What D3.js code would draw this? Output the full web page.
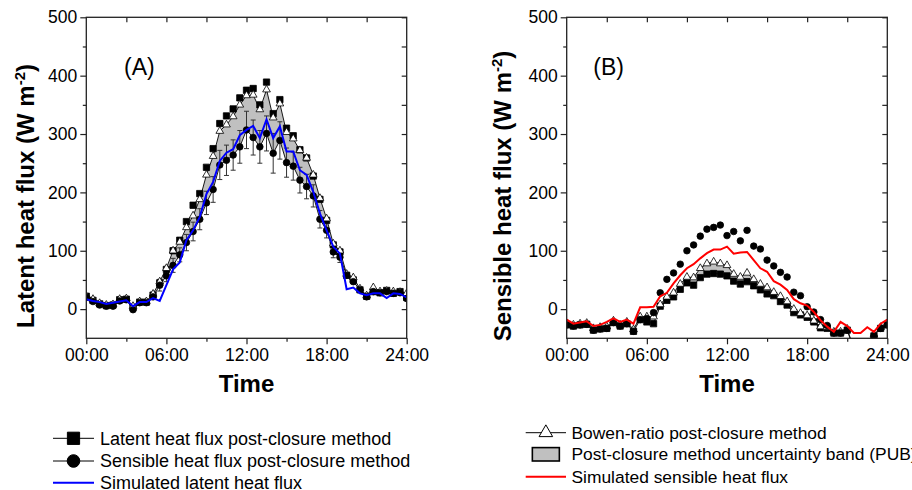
<!DOCTYPE html>
<html>
<head>
<meta charset="utf-8">
<script src="https://cdn.jsdelivr.net/npm/d3@7"></script>
<style>
  body { margin: 0; background: #fff; }
  svg { font-family: "Liberation Sans", Arial, sans-serif; }
</style>
</head>
<body>
<div id="chart"></div>
<script>
// half-hourly time stamps (hours)
var hours = [0,0.5,1,1.5,2,2.5,3,3.5,4,4.5,5,5.5,6,6.5,7,7.5,8,8.5,9,9.5,10,10.5,11,11.5,
             12,12.5,13,13.5,14,14.5,15,15.5,16,16.5,17,17.5,18,18.5,19,19.5,20,20.5,21,21.5,22,22.5,23,23.5,24];
var timeTicks = [0, 6, 12, 18, 24];
var timeLabels = ["00:00", "06:00", "12:00", "18:00", "24:00"];
var fluxTicks = [0, 100, 200, 300, 400, 500];

// (A) latent heat flux
var aLatentPC = [22,15,9,6,7,16,17,3,12,12,24,45,68,100,118,150,178,198,243,275,318,331,343,362,
                 375,378,350,389,335,359,310,297,273,259,228,188,152,110,98,58,50,33,22,30,28,32,27,30,20];
var aBowen    = [22,17,10,7,8,17,18,5,13,13,26,47,70,100,115,140,160,188,230,262,305,316,330,350,
                 366,367,342,376,328,352,303,292,272,259,230,190,155,112,100,60,54,35,23,37,30,31,30,29,27];
var aSensPC   = [20,13,7,5,5,14,16,-1,11,11,21,41,57,75,93,114,133,154,182,205,247,255,264,278,
                 307,294,278,301,267,289,251,245,221,210,194,154,135,98,89,58,47,33,21,30,28,30,27,28,18];
var aSensErr  = [0,0,0,0,0,0,0,0,0,0,0,10,10,12,12,14,16,18,20,22,25,26,26,28,
                 32,30,28,30,34,32,25,24,22,21,19,15,13,10,9,0,0,0,0,0,0,0,0,0,0];
var aSimLE    = [17,14,12,9,11,13,15,5,12,12,19,14,41,68,80,118,135,158,197,218,254,268,274,298,
                 307,314,293,325,293,313,270,270,238,230,201,164,135,107,95,34,37,27,24,27,27,19,27,26,20];

// (B) sensible heat flux
var bLatentPC = [-27,-29,-27,-26,-36,-34,-33,-23,-29,-25,-38,-18,-22,-25,5,15,21,34,45,41,54,60,61,60,
                 57,48,43,47,40,33,26,23,13,7,-6,-10,-14,-22,-32,-33,-41,-41,-36,-70,-85,-70,-46,-33,-27];
var bBowen    = [-25,-27,-25,-24,-33,-31,-30,-20,-27,-22,-35,-13,-13,-13,8,21,28,43,55,54,70,78,81,78,
                 75,60,55,62,51,43,37,29,22,13,0,-7,-11,-20,-30,-31,-39,-39,-34,-68,-83,-68,-44,-31,-25];
var bSensPC   = [-27,-29,-27,-26,-36,-34,-33,-23,-29,-25,-38,-18,-16,-6,28,51,62,77,100,110,125,137,140,144,
                 126,133,117,135,108,103,84,74,63,55,29,23,4,-5,-18,-28,-41,-41,-36,-70,-85,-70,-46,-33,-27];
var bSimH     = [-18,-25,-23,-21,-29,-27,-22,-16,-22,-18,-25,3,3,4,22,28,44,58,70,77,87,96,102,102,
                 107,95,97,98,84,70,64,48,42,33,17,10,6,-5,-19,-30,-39,-22,-29,-41,-41,-31,-39,-25,-18];

var W = 912, H = 490;
var plotTop = 17.3, ph = 321;

var svg = d3.select("#chart")
  .append("svg")
    .attr("width", W)
    .attr("height", H);

function drawPanel(p) {
    var pw = p.width;
    var g = svg.append("g")
        .attr("transform", "translate(" + p.left + "," + plotTop + ")");

    var x = d3.scaleLinear().domain([0, 24]).range([0, pw]);
    var y = d3.scaleLinear().domain([-50, 500]).range([ph, 0]);

    var clipId = "clip" + p.name;
    g.append("clipPath").attr("id", clipId)
      .append("rect").attr("width", pw).attr("height", ph);

    var data = hours.map(function(h, i) {
        return { h: h, sq: p.sq[i], tri: p.tri[i], circ: p.circ[i],
                 sim: p.sim[i], err: p.err ? p.err[i] : 0 };
    });

    var plot = g.append("g").attr("clip-path", "url(#" + clipId + ")");

    // uncertainty band between Bowen-ratio and the lower post-closure series
    var lowKey = p.bandLow;
    plot.append("path")
      .datum(data)
      .attr("fill", "#c0c0c0")
      .attr("d", d3.area()
            .x(function(d) { return x(d.h); })
            .y0(function(d) { return y(d[lowKey]); })
            .y1(function(d) { return y(d.tri); }));

    var thin = function(key) {
        plot.append("path")
          .datum(data)
          .attr("fill", "none")
          .attr("stroke", "#000")
          .attr("stroke-width", 0.9)
          .attr("d", d3.line()
                .x(function(d) { return x(d.h); })
                .y(function(d) { return y(d[key]); }));
    };
    thin("tri");
    thin(lowKey);

    // error bars
    var eb = plot.selectAll(".eb")
      .data(data.filter(function(d) { return d.err > 0; }))
      .enter().append("g")
        .attr("stroke", "#333")
        .attr("stroke-width", 1);
    eb.append("line")
      .attr("x1", function(d) { return x(d.h); })
      .attr("x2", function(d) { return x(d.h); })
      .attr("y1", function(d) { return y(d.circ - d.err); })
      .attr("y2", function(d) { return y(d.circ + d.err); });
    [-1, 1].forEach(function(s) {
        eb.append("line")
          .attr("x1", function(d) { return x(d.h) - 2.5; })
          .attr("x2", function(d) { return x(d.h) + 2.5; })
          .attr("y1", function(d) { return y(d.circ + s * d.err); })
          .attr("y2", function(d) { return y(d.circ + s * d.err); });
    });

    // markers
    var sym = function(type, size, key, fill) {
        plot.selectAll(".m" + key)
          .data(data)
          .enter().append("path")
            .attr("transform", function(d) { return "translate(" + x(d.h) + "," + y(d[key]) + ")"; })
            .attr("d", d3.symbol().type(type).size(size))
            .attr("fill", fill)
            .attr("stroke", "#000")
            .attr("stroke-width", 0.8);
    };
    sym(d3.symbolSquare, 40, "sq", "#000");
    sym(d3.symbolTriangle, 26, "tri", "#fff");
    sym(d3.symbolCircle, 34, "circ", "#000");

    // simulated flux
    plot.append("path")
      .datum(data)
      .attr("fill", "none")
      .attr("stroke", p.simColor)
      .attr("stroke-width", 2)
      .attr("d", d3.line()
            .x(function(d) { return x(d.h); })
            .y(function(d) { return y(d.sim); }));

    // axes: outward ticks left/bottom, inward mirror ticks right/top
    var left = g.append("g")
      .call(d3.axisLeft(y).tickValues(fluxTicks).tickSizeInner(6).tickSizeOuter(0).tickPadding(3));
    g.append("g")
      .call(d3.axisLeft(y).tickValues([50, 150, 250, 350, 450]).tickSize(3.5).tickFormat(""));
    var bottom = g.append("g")
      .attr("transform", "translate(0," + ph + ")")
      .call(d3.axisBottom(x).tickValues(timeTicks).tickSizeInner(6).tickSizeOuter(0).tickPadding(4)
            .tickFormat(function(d, i) { return timeLabels[i]; }));
    g.append("g")
      .attr("transform", "translate(0," + ph + ")")
      .call(d3.axisBottom(x).tickValues([3, 9, 15, 21]).tickSize(3.5).tickFormat(""));
    g.append("g")
      .attr("transform", "translate(" + pw + ",0)")
      .call(d3.axisLeft(y).tickValues(fluxTicks.concat([50, 150, 250, 350, 450])).tickSize(5).tickFormat(""));
    g.append("g")
      .call(d3.axisBottom(x).tickValues([3, 6, 9, 12, 15, 18, 21]).tickSize(5).tickFormat(""));

    g.selectAll(".domain").remove();
    g.selectAll(".tick line").attr("stroke", "#222").attr("stroke-width", 1.2);
    left.selectAll("text").style("font-size", "17.5px").attr("fill", "#000");
    bottom.selectAll("text").style("font-size", "17.5px").attr("fill", "#000");

    g.append("rect")
      .attr("width", pw).attr("height", ph)
      .attr("fill", "none")
      .attr("stroke", "#222")
      .attr("stroke-width", 1.3);

    // panel label
    g.append("text")
      .attr("x", p.labelX).attr("y", 75 - plotTop)
      .style("font-size", "23px")
      .text(p.label);

    // axis titles
    g.append("text")
      .attr("x", pw / 2).attr("y", 392 - plotTop)
      .attr("text-anchor", "middle")
      .style("font-size", "24px").style("font-weight", "bold")
      .text("Time");

    var yt = g.append("text")
      .attr("transform", "translate(" + p.titleX + "," + (196 - plotTop) + ") rotate(-90)")
      .attr("text-anchor", "middle")
      .style("font-size", "24px").style("font-weight", "bold");
    yt.append("tspan").text(p.yTitle + " (W m");
    yt.append("tspan").attr("dy", -9).style("font-size", "15px").text("-2");
    yt.append("tspan").attr("dy", 9).text(")");
}

drawPanel({ name: "A", left: 86.3, width: 320.4, sq: aLatentPC, tri: aBowen, circ: aSensPC,
            sim: aSimLE, err: aSensErr, bandLow: "circ", simColor: "#0000ff",
            label: "(A)", labelX: 124 - 86.3, titleX: 33.5 - 86.3, yTitle: "Latent heat flux" });
drawPanel({ name: "B", left: 566.7, width: 320.6, sq: bLatentPC, tri: bBowen, circ: bSensPC,
            sim: bSimH, err: null, bandLow: "sq", simColor: "#ff0000",
            label: "(B)", labelX: 593.3 - 566.7, titleX: 511 - 566.7, yTitle: "Sensible heat flux" });

// legends
var legA = [
    { label: "Latent heat flux post-closure method", kind: "square" },
    { label: "Sensible heat flux post-closure method", kind: "circle" },
    { label: "Simulated latent heat flux", kind: "blue" }
];
var legB = [
    { label: "Bowen-ratio post-closure method", kind: "triangle" },
    { label: "Post-closure method uncertainty band (PUB)", kind: "box" },
    { label: "Simulated sensible heat flux", kind: "red" }
];

function drawLegend(items, x0, x1, tx, ys, fs) {
    var cx = (x0 + x1) / 2;
    items.forEach(function(it, i) {
        var ly = ys[i];
        var row = svg.append("g");
        if (it.kind === "box") {
            row.append("rect")
              .attr("x", cx - 13.5).attr("y", ly - 6.7)
              .attr("width", 27).attr("height", 13.4)
              .attr("fill", "#c0c0c0").attr("stroke", "#000").attr("stroke-width", 1.6);
        } else {
            var col = it.kind === "blue" ? "#0000ff" : (it.kind === "red" ? "#ff0000" : "#000");
            row.append("line")
              .attr("x1", x0).attr("x2", x1).attr("y1", ly).attr("y2", ly)
              .attr("stroke", col).attr("stroke-width", (it.kind === "blue" || it.kind === "red") ? 2 : 1);
            var t = { square: d3.symbolSquare, circle: d3.symbolCircle, triangle: d3.symbolTriangle }[it.kind];
            if (t) {
                row.append("path")
                  .attr("transform", "translate(" + cx + "," + ly + ")")
                  .attr("d", d3.symbol().type(t).size(it.kind === "triangle" ? 80 : (it.kind === "square" ? 150 : 125)))
                  .attr("fill", it.kind === "triangle" ? "#fff" : "#000")
                  .attr("stroke", "#000").attr("stroke-width", 1);
            }
        }
        row.append("text")
          .attr("x", tx).attr("y", ly).attr("dy", "0.35em")
          .style("font-size", fs + "px")
          .text(it.label);
    });
}
drawLegend(legA, 53, 94, 100, [438.3, 461, 482.7], 18);
drawLegend(legB, 525.7, 566, 571.5, [432.7, 454.3, 476.7], 17.4);
</script>
</body>
</html>
